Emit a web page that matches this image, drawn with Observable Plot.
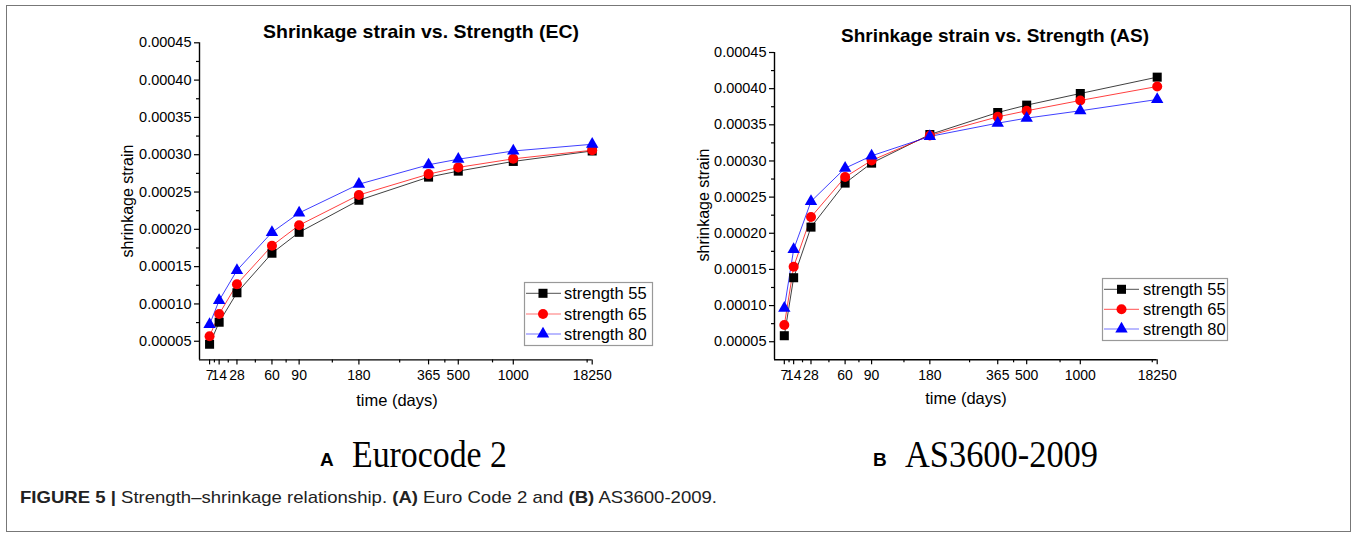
<!DOCTYPE html>
<html><head><meta charset="utf-8">
<script src="https://cdn.jsdelivr.net/npm/d3@7"></script>
<script src="https://cdn.jsdelivr.net/npm/@observablehq/plot@0.6"></script>
<style>
body{margin:0;background:#fff;}
#fig{position:relative;width:1357px;height:544px;overflow:hidden;font-family:"Liberation Sans",Arial,sans-serif;}
#fig > svg{position:absolute;}
</style></head><body><div id="fig"></div>
<script>
// ---- data (time in days, shrinkage strain) ----
const days = [7, 14, 28, 60, 90, 180, 365, 500, 1000, 18250];
const seriesNames = ["strength 55", "strength 65", "strength 80"];
const seriesColors = ["#000000", "#ff0000", "#0000ff"];
const seriesSymbols = ["square", "circle", "triangle"];
// Eurocode 2
const ec55 = [0.0000460, 0.0000755, 0.000115, 0.000168, 0.000196, 0.000239, 0.000270, 0.000278, 0.000291, 0.000305];
const ec65 = [0.0000568, 0.0000864, 0.0001265, 0.000178, 0.0002055, 0.000246, 0.000274, 0.000283, 0.0002945, 0.000306];
const ec80 = [0.0000725, 0.0001046, 0.000145, 0.000196, 0.000222, 0.0002605, 0.0002865, 0.000294, 0.000305, 0.000314];
// AS3600-2009
const as55 = [0.0000583, 0.0001385, 0.0002085, 0.0002694, 0.000297, 0.0003366, 0.000367, 0.0003772, 0.0003933, 0.0004159];
const as65 = [0.0000731, 0.0001537, 0.0002224, 0.0002777, 0.0003007, 0.0003353, 0.000361, 0.0003694, 0.0003837, 0.000403];
const as80 = [0.0000965, 0.0001776, 0.000244, 0.00029, 0.0003071, 0.000334, 0.0003523, 0.0003592, 0.0003694, 0.000385];
const yTicks = [0.00005, 0.00010, 0.00015, 0.00020, 0.00025, 0.00030, 0.00035, 0.00040, 0.00045];
const yDomain = [0.000025, 0.00045];
const xDomainDays = [0, 18250];
const titles = ["Shrinkage strain vs. Strength (EC)", "Shrinkage strain vs. Strength (AS)"];
const panelLetters = ["A", "B"];
const panelNames = ["Eurocode 2", "AS3600-2009"];

// offset-reciprocal time axis (as in the original software)
const OFFSET = 270;
const g = t => t / (t + OFFSET);

const fig = document.getElementById("fig");
const symbolR = [5.1, 5, 4.6];

function makePanel(values, cfg) {
  const data = [];
  seriesNames.forEach((name, si) => values[si].forEach((v, i) => data.push({day: days[i], value: v, series: name})));
  const xt = days.map(g);
  const labelByX = new Map(xt.map((v, i) => [v, String(days[i])]));
  const minorX = days.slice(1).map((d, i) => g((d + days[i]) / 2));
  const minorY = yTicks.slice(1).map((v, i) => (v + yTicks[i]) / 2);
  const chart = Plot.plot({
    width: cfg.width, height: cfg.height,
    marginLeft: cfg.ml, marginRight: cfg.mr, marginTop: cfg.mt, marginBottom: cfg.mb,
    style: {fontFamily: "'Liberation Sans', Arial, sans-serif", fontSize: "14px", color: "#000", background: "transparent", overflow: "visible"},
    x: {domain: xDomainDays.map(g)},
    y: {domain: yDomain},
    color: {domain: seriesNames, range: seriesColors},
    marks: [
      Plot.line(data, {x: d => g(d.day), y: "value", z: "series", stroke: "series", strokeWidth: 1, strokeOpacity: 0.75}),
      ...seriesNames.map((name, si) => Plot.dot(data, {
        filter: d => d.series === name, x: d => g(d.day), y: "value",
        symbol: seriesSymbols[si], fill: seriesColors[si], stroke: "none", r: symbolR[si]
      })),
      Plot.ruleX(xDomainDays.slice(0, 1).map(g), {strokeWidth: 1.4}),
      Plot.ruleY(yDomain.slice(0, 1), {strokeWidth: 1.4}),
      Plot.axisY({ticks: yTicks, tickSize: 5, tickPadding: 3, tickFormat: d => d.toFixed(5), fontSize: 14.5, label: null, strokeWidth: 1.2}),
      Plot.axisY({ticks: minorY, tickSize: 3, tickFormat: () => "", label: null, strokeWidth: 1.2}),
      Plot.axisX({ticks: xt, tickSize: 5, tickPadding: 5, tickFormat: v => labelByX.get(v), fontSize: 14, label: null, strokeWidth: 1.2}),
      Plot.axisX({ticks: minorX, tickSize: 3, tickFormat: () => "", label: null, strokeWidth: 1.2})
    ]
  });
  chart.style.left = cfg.left + "px";
  chart.style.top = cfg.top + "px";
  fig.appendChild(chart);
}

makePanel([ec55, ec65, ec80], {left: 0, top: 0, width: 680, height: 420, ml: 199, mr: 88.3, mt: 42.3, mb: 60.6});
makePanel([as55, as65, as80], {left: 680, top: 0, width: 677, height: 420, ml: 94, mr: 200.3, mt: 52, mb: 60.7});

// ---- overlay: titles, axis labels, legends, panel labels, caption, border ----
const svg = d3.select(fig).append("svg").attr("width", 1357).attr("height", 544)
  .style("left", "0px").style("top", "0px")
  .attr("font-family", "'Liberation Sans', Arial, sans-serif");

svg.append("rect").attr("x", 6.5).attr("y", 5.5).attr("width", 1344).attr("height", 526)
  .attr("fill", "none").attr("stroke", "#777").attr("stroke-width", 1);

const panelText = [
  {titleX: 421, titleY: 37.5, titleW: 316, ylabX: 127, ylabY: 201, xlabX: 397, xlabY: 400,
   letterX: 320, nameX: 352, nameW: 155, legend: {x: 524, y: 282, w: 128, h: 63, rows: [293.3, 314, 334], lx1: 526, lx2: 561, mx: 543, tx: 564}},
  {titleX: 995, titleY: 41.5, titleW: 308, ylabX: 703, ylabY: 205, xlabX: 966, xlabY: 398,
   letterX: 873, nameX: 905, nameW: 193, legend: {x: 1102, y: 278, w: 125, h: 62, rows: [289.3, 309.3, 329], lx1: 1104, lx2: 1139, mx: 1121.5, tx: 1143}}
];

panelText.forEach((p, k) => {
  svg.append("text").attr("x", p.titleX).attr("y", p.titleY).attr("text-anchor", "middle")
    .attr("font-weight", "bold").attr("font-size", 18.5).attr("textLength", p.titleW)
    .attr("lengthAdjust", "spacingAndGlyphs").text(titles[k]);
  svg.append("text").attr("transform", `translate(${p.ylabX},${p.ylabY}) rotate(-90)`)
    .attr("text-anchor", "middle").attr("dominant-baseline", "central").attr("font-size", 16).text("shrinkage strain");
  svg.append("text").attr("x", p.xlabX).attr("y", p.xlabY).attr("text-anchor", "middle")
    .attr("dominant-baseline", "central").attr("font-size", 16.5).text("time (days)");
  // legend
  const L = p.legend;
  svg.append("rect").attr("x", L.x + 0.5).attr("y", L.y + 0.5).attr("width", L.w).attr("height", L.h)
    .attr("fill", "#fff").attr("stroke", "#999").attr("stroke-width", 1.2);
  seriesNames.forEach((name, si) => {
    const y = L.rows[si];
    svg.append("line").attr("x1", L.lx1).attr("x2", L.lx2).attr("y1", y).attr("y2", y)
      .attr("stroke", seriesColors[si]).attr("stroke-opacity", 0.55).attr("stroke-width", 1.2);
    const sym = {square: d3.symbolSquare, circle: d3.symbolCircle, triangle: d3.symbolTriangle}[seriesSymbols[si]];
    svg.append("path").attr("d", d3.symbol(sym, Math.PI * symbolR[si] * symbolR[si])())
      .attr("transform", `translate(${L.mx},${y})`).attr("fill", seriesColors[si]);
    svg.append("text").attr("x", L.tx).attr("y", y).attr("dominant-baseline", "central")
      .attr("font-size", 16.5).text(name);
  });
  // panel label
  svg.append("text").attr("x", p.letterX).attr("y", 466).attr("font-weight", "bold")
    .attr("font-size", 19).text(panelLetters[k]);
  svg.append("text").attr("x", p.nameX).attr("y", 467).attr("font-family", "'Liberation Serif', 'Times New Roman', serif")
    .attr("font-size", 37).attr("textLength", p.nameW).attr("lengthAdjust", "spacingAndGlyphs").text(panelNames[k]);
});

// caption
const cap = svg.append("text").attr("x", 20).attr("y", 503).attr("font-size", 17)
  .attr("textLength", 697).attr("lengthAdjust", "spacingAndGlyphs").attr("fill", "#222");
cap.append("tspan").attr("font-weight", "bold").text("FIGURE 5 | ");
cap.append("tspan").text("Strength–shrinkage relationship. ");
cap.append("tspan").attr("font-weight", "bold").text("(A)");
cap.append("tspan").text(" Euro Code 2 and ");
cap.append("tspan").attr("font-weight", "bold").text("(B)");
cap.append("tspan").text(" AS3600-2009.");
</script></body></html>
